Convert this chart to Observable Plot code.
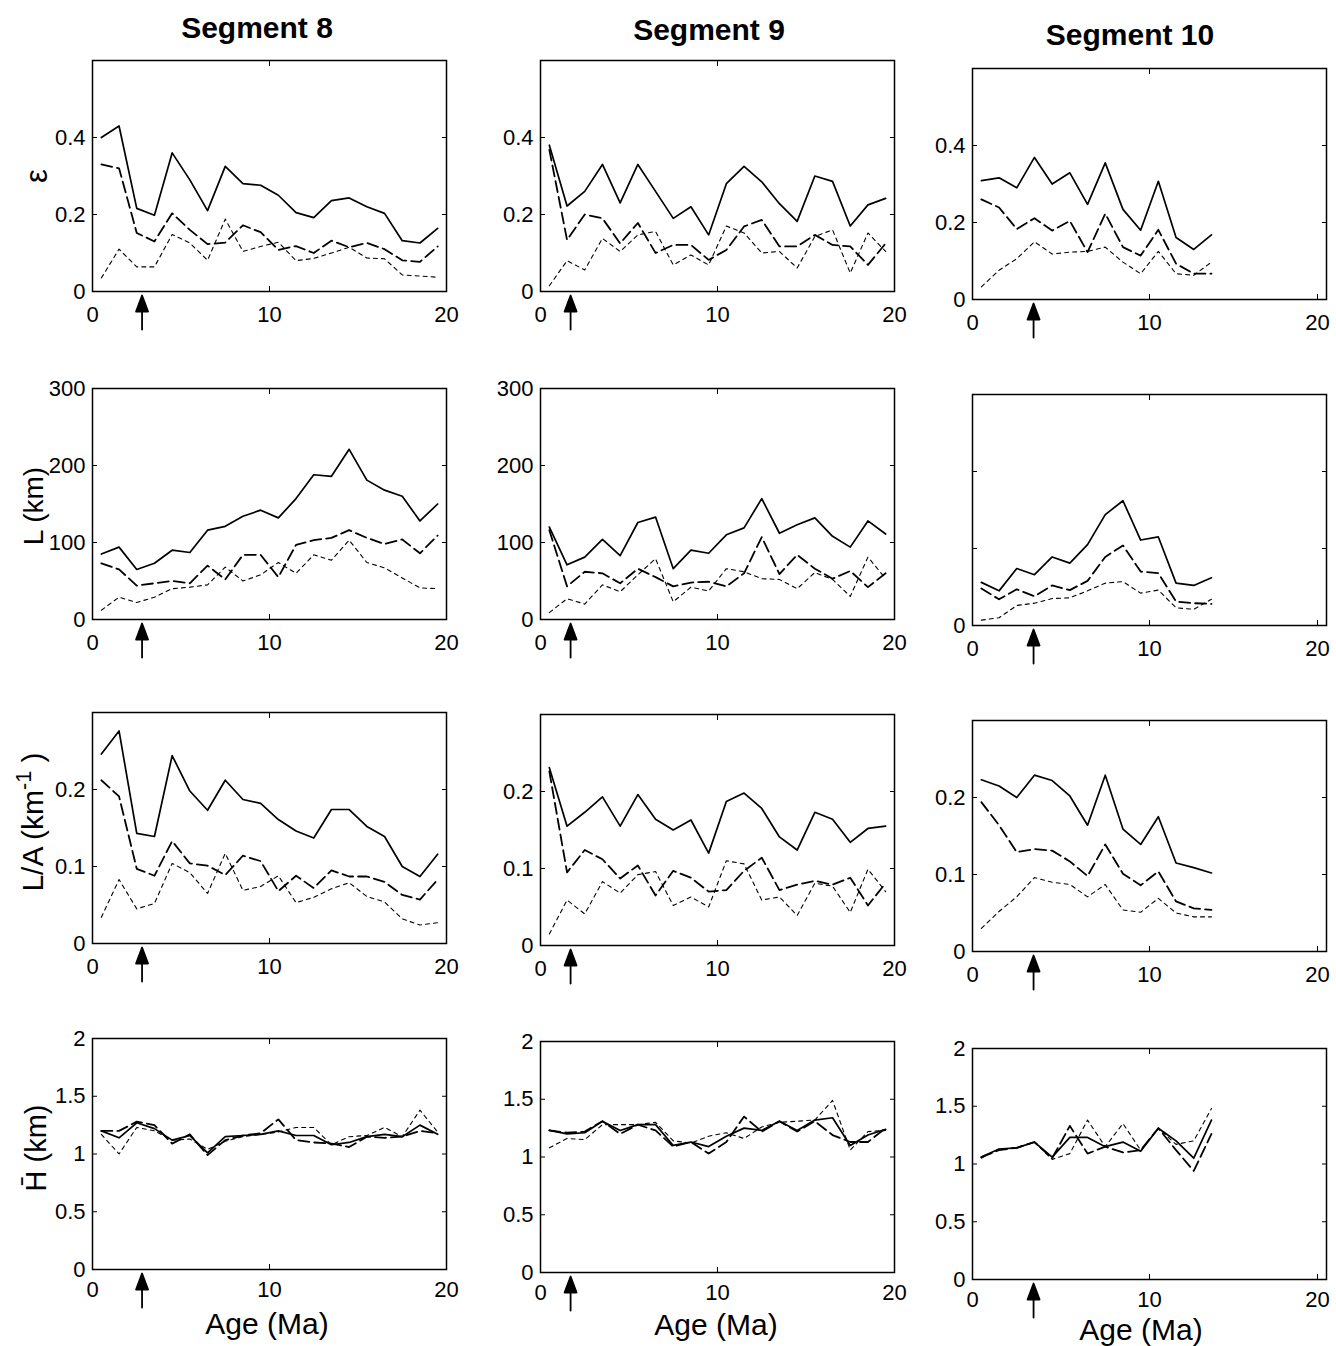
<!DOCTYPE html>
<html><head><meta charset="utf-8">
<script src="https://cdn.jsdelivr.net/npm/d3@7"></script>
<script src="https://cdn.jsdelivr.net/npm/@observablehq/plot@0.6"></script>
<style>
body{margin:0;background:#fff;}
#page{position:relative;width:1336px;height:1346px;background:#fff;font-family:"Liberation Sans",Arial,Helvetica,sans-serif;color:#000;overflow:hidden;}
.title{position:absolute;font-weight:bold;font-size:30px;transform:translate(-50%,-50%);white-space:nowrap;line-height:1;}
.ylab{position:absolute;font-size:28px;transform:translate(-50%,-50%) rotate(-90deg);white-space:nowrap;line-height:1;}
.xlab{position:absolute;font-size:30px;transform:translate(-50%,-50%);white-space:nowrap;line-height:1;}
.panel{position:absolute;}
sup{font-size:0.72em;vertical-align:0.55em;line-height:0;}
</style></head><body><div id="page"></div>
<script>
// ---------- data ----------
const segments = ["Segment 8", "Segment 9", "Segment 10"];
const ageSeg8  = [0.5,1.5,2.5,3.5,4.5,5.5,6.5,7.5,8.5,9.5,10.5,11.5,12.5,13.5,14.5,15.5,16.5,17.5,18.5,19.5];
const ageSeg9  = [0.5,1.5,2.5,3.5,4.5,5.5,6.5,7.5,8.5,9.5,10.5,11.5,12.5,13.5,14.5,15.5,16.5,17.5,18.5,19.5];
const ageSeg10 = [0.5,1.5,2.5,3.5,4.5,5.5,6.5,7.5,8.5,9.5,10.5,11.5,12.5,13.5];
const arrowSeg8 = 2.8, arrowSeg9 = 1.7, arrowSeg10 = 3.45;

// epsilon
const epsSeg8Solid  = [0.40,0.43,0.216,0.198,0.36,0.29,0.21,0.325,0.28,0.276,0.25,0.205,0.192,0.236,0.243,0.22,0.203,0.132,0.126,0.164];
const epsSeg8Long   = [0.33,0.32,0.152,0.13,0.203,0.16,0.123,0.127,0.172,0.154,0.108,0.118,0.1,0.132,0.115,0.126,0.11,0.081,0.077,0.117];
const epsSeg8Short  = [0.035,0.11,0.064,0.064,0.148,0.126,0.081,0.188,0.104,0.117,0.128,0.08,0.086,0.1,0.115,0.087,0.085,0.043,0.04,0.037];
const epsSeg9Solid  = [0.38,0.222,0.26,0.33,0.23,0.33,0.26,0.19,0.22,0.147,0.28,0.325,0.285,0.228,0.182,0.30,0.286,0.17,0.225,0.242];
const epsSeg9Long   = [0.368,0.134,0.2,0.19,0.125,0.178,0.1,0.121,0.121,0.082,0.108,0.169,0.186,0.117,0.117,0.147,0.121,0.117,0.069,0.125];
const epsSeg9Short  = [0.015,0.08,0.056,0.138,0.104,0.147,0.156,0.069,0.095,0.069,0.17,0.152,0.1,0.104,0.061,0.143,0.16,0.048,0.152,0.104];
const epsSeg10Solid = [0.309,0.316,0.29,0.369,0.3,0.329,0.247,0.355,0.234,0.18,0.307,0.161,0.13,0.168];
const epsSeg10Long  = [0.26,0.239,0.183,0.211,0.179,0.204,0.123,0.223,0.136,0.114,0.181,0.093,0.067,0.067];
const epsSeg10Short = [0.033,0.076,0.106,0.15,0.118,0.123,0.125,0.136,0.097,0.067,0.125,0.067,0.063,0.097];

// L (km)
const lenSeg8Solid  = [85,94,65,73,90,87,116,121,134,142,132,157,188,186,221,181,168,160,128,150];
const lenSeg8Long   = [73,65,44,47,50,47,70,52,84,84,55,97,103,106,116,106,98,104,86,109];
const lenSeg8Short  = [12,29,22,29,40,42,45,68,50,58,74,60,84,77,103,74,67,54,41,40];
const lenSeg9Solid  = [120,71,81,104,83,126,133,66,90,86,110,119,157,112,123,132,108,94,128,111];
const lenSeg9Long   = [116,43,62,60,47,66,55,43,48,49,43,60,107,59,84,66,53,63,42,60];
const lenSeg9Short  = [9,27,20,45,36,58,79,23,42,37,66,62,53,52,40,61,52,30,81,53];
const lenSeg10Solid = [56,45,74,66,89,81,105,144,162,111,115,55,52,62];
const lenSeg10Long  = [48,34,47,38,52,46,58,89,104,70,68,31,29,28];
const lenSeg10Short = [7,10,26,29,35,36,45,55,57,42,46,23,21,34];

// L/A (km^-1)
const laSeg8Solid  = [0.246,0.276,0.143,0.139,0.244,0.198,0.173,0.212,0.187,0.182,0.161,0.146,0.137,0.174,0.174,0.152,0.139,0.1,0.087,0.116];
const laSeg8Long   = [0.212,0.191,0.097,0.088,0.133,0.104,0.101,0.089,0.114,0.107,0.068,0.088,0.072,0.095,0.087,0.087,0.08,0.063,0.057,0.083];
const laSeg8Short  = [0.034,0.083,0.045,0.052,0.104,0.092,0.065,0.117,0.069,0.074,0.088,0.053,0.06,0.071,0.079,0.061,0.054,0.032,0.024,0.027];
const laSeg9Solid  = [0.231,0.155,0.173,0.193,0.155,0.196,0.164,0.15,0.163,0.12,0.187,0.198,0.178,0.141,0.124,0.173,0.164,0.134,0.152,0.155];
const laSeg9Long   = [0.226,0.095,0.124,0.112,0.087,0.104,0.065,0.097,0.088,0.07,0.072,0.097,0.114,0.072,0.079,0.084,0.079,0.088,0.052,0.081];
const laSeg9Short  = [0.015,0.059,0.041,0.083,0.068,0.092,0.096,0.052,0.063,0.05,0.11,0.106,0.059,0.063,0.039,0.081,0.077,0.043,0.099,0.07];
const laSeg10Solid = [0.223,0.215,0.2,0.229,0.222,0.202,0.164,0.229,0.159,0.139,0.175,0.115,0.109,0.102];
const laSeg10Long  = [0.194,0.164,0.129,0.133,0.131,0.117,0.098,0.139,0.101,0.086,0.104,0.065,0.056,0.054];
const laSeg10Short = [0.03,0.052,0.071,0.096,0.09,0.087,0.071,0.087,0.054,0.051,0.069,0.05,0.045,0.045];

// H-bar (km)
const hSeg8Solid  = [1.2,1.14,1.27,1.22,1.12,1.16,1.01,1.15,1.16,1.17,1.2,1.16,1.16,1.08,1.1,1.15,1.17,1.15,1.25,1.17];
const hSeg8Long   = [1.2,1.2,1.28,1.25,1.09,1.17,0.99,1.12,1.16,1.18,1.3,1.12,1.1,1.09,1.06,1.15,1.14,1.15,1.2,1.18];
const hSeg8Short  = [1.17,1.0,1.23,1.2,1.12,1.13,1.04,1.11,1.15,1.17,1.19,1.23,1.23,1.08,1.15,1.16,1.23,1.15,1.38,1.19];
const hSeg9Solid  = [1.23,1.2,1.21,1.31,1.23,1.28,1.28,1.1,1.13,1.09,1.18,1.25,1.23,1.31,1.23,1.32,1.34,1.1,1.19,1.24];
const hSeg9Long   = [1.23,1.21,1.22,1.31,1.2,1.28,1.23,1.09,1.13,1.03,1.13,1.35,1.22,1.31,1.22,1.31,1.19,1.13,1.13,1.25];
const hSeg9Short  = [1.08,1.16,1.15,1.28,1.28,1.28,1.3,1.14,1.12,1.18,1.21,1.16,1.26,1.3,1.31,1.32,1.49,1.06,1.22,1.23];
const hSeg10Solid = [1.06,1.13,1.14,1.19,1.06,1.23,1.23,1.15,1.19,1.11,1.31,1.2,1.05,1.38];
const hSeg10Long  = [1.06,1.12,1.14,1.19,1.05,1.33,1.09,1.15,1.1,1.12,1.31,1.12,0.94,1.26];
const hSeg10Short = [1.05,1.13,1.14,1.19,1.04,1.09,1.38,1.15,1.35,1.12,1.31,1.17,1.2,1.48];

// axis ticks
const xTicksInner = [0, 10];
const xTickEnd = [20];
const xTicks = [0, 10, 20];
const epsTicks = [0, 0.2, 0.4], epsDomain = [0, 0.6];
const lenTicks = [0, 100, 200, 300], lenDomain = [0, 300];
const laTicks = [0, 0.1, 0.2], laDomain = [0, 0.3];
const hTicks = [0, 0.5, 1, 1.5, 2], hDomain = [0, 2];

// ---------- layout ----------
const colLeft = [92, 540, 972];
const frameW = 354, frameH = 231;
const rowTop = [[60, 60, 68], [388, 388, 394], [712, 714, 720], [1038, 1041, 1048]];
const rowTickPad = [20, 20, 20, 17];
const endLabelShift = [0, 0, -9];
const mL = 70, mR = 10, mT = 10, mB = 56;
const FONT = '"Liberation Sans", Arial, Helvetica, sans-serif';

const arrowShape = {
  draw(ctx, l) {
    const hw = 6, hl = 16;
    ctx.moveTo(0, -l);
    ctx.lineTo(hw, -l + hl);
    ctx.lineTo(-hw, -l + hl);
    ctx.closePath();
    ctx.moveTo(0, 0);
    ctx.lineTo(0, -l + hl);
  }
};

function rowsOf(ages, vals) { return ages.map((a, i) => ({age: a, v: vals[i]})); }

function panel(cfg, r, c) {
  const {ages, solid, long, short, domain, ticks, fmt, arrow} = cfg;
  const pad = rowTickPad[r];
  const el = Plot.plot({
    width: frameW + mL + mR, height: frameH + mT + mB,
    marginLeft: mL, marginRight: mR, marginTop: mT, marginBottom: mB,
    style: {background: "none", overflow: "visible", maxWidth: "none", fontSize: "22px", fontFamily: FONT, color: "black"},
    x: {domain: [0, 20]},
    y: {domain},
    marks: [
      Plot.line(rowsOf(ages, short), {x: "age", y: "v", stroke: "black", strokeWidth: 1.1, strokeDasharray: "4,4"}),
      Plot.line(rowsOf(ages, long), {x: "age", y: "v", stroke: "black", strokeWidth: 1.8, strokeDasharray: "11,5"}),
      Plot.line(rowsOf(ages, solid), {x: "age", y: "v", stroke: "black", strokeWidth: 1.7}),
      Plot.frame({stroke: "black", strokeWidth: 1.5}),
      Plot.axisX({anchor: "bottom", ticks: xTicksInner, tickSize: -5, tickPadding: pad, tickFormat: d => String(d), label: null}),
      Plot.axisX({anchor: "bottom", ticks: xTickEnd, tickSize: -5, tickPadding: pad, dx: endLabelShift[c], tickFormat: d => String(d), label: null}),
      Plot.axisX({anchor: "top", ticks: xTicks, tickSize: -5, tickFormat: () => "", label: null}),
      Plot.axisY({anchor: "left", ticks, tickSize: -5, tickPadding: 12, tickFormat: fmt, label: null}),
      Plot.axisY({anchor: "right", ticks, tickSize: -5, tickFormat: () => "", label: null}),
      Plot.vector([arrow], {x: d => d, frameAnchor: "bottom", anchor: "start", length: 34, dy: 38,
        shape: arrowShape, fill: "black", stroke: "black", strokeWidth: 1.8})
    ]
  });
  const wrap = document.createElement("div");
  wrap.className = "panel";
  wrap.style.left = (colLeft[c] - mL) + "px";
  wrap.style.top = (rowTop[r][c] - mT) + "px";
  wrap.appendChild(el);
  return wrap;
}

const std = d => String(d);
const zeroOnly = d => d === 0 ? "0" : "";

const grid = [
  [
    {ages: ageSeg8, solid: epsSeg8Solid, long: epsSeg8Long, short: epsSeg8Short, domain: epsDomain, ticks: epsTicks, fmt: std, arrow: arrowSeg8},
    {ages: ageSeg9, solid: epsSeg9Solid, long: epsSeg9Long, short: epsSeg9Short, domain: epsDomain, ticks: epsTicks, fmt: std, arrow: arrowSeg9},
    {ages: ageSeg10, solid: epsSeg10Solid, long: epsSeg10Long, short: epsSeg10Short, domain: epsDomain, ticks: epsTicks, fmt: std, arrow: arrowSeg10}
  ],
  [
    {ages: ageSeg8, solid: lenSeg8Solid, long: lenSeg8Long, short: lenSeg8Short, domain: lenDomain, ticks: lenTicks, fmt: std, arrow: arrowSeg8},
    {ages: ageSeg9, solid: lenSeg9Solid, long: lenSeg9Long, short: lenSeg9Short, domain: lenDomain, ticks: lenTicks, fmt: std, arrow: arrowSeg9},
    {ages: ageSeg10, solid: lenSeg10Solid, long: lenSeg10Long, short: lenSeg10Short, domain: lenDomain, ticks: lenTicks, fmt: zeroOnly, arrow: arrowSeg10}
  ],
  [
    {ages: ageSeg8, solid: laSeg8Solid, long: laSeg8Long, short: laSeg8Short, domain: laDomain, ticks: laTicks, fmt: std, arrow: arrowSeg8},
    {ages: ageSeg9, solid: laSeg9Solid, long: laSeg9Long, short: laSeg9Short, domain: laDomain, ticks: laTicks, fmt: std, arrow: arrowSeg9},
    {ages: ageSeg10, solid: laSeg10Solid, long: laSeg10Long, short: laSeg10Short, domain: laDomain, ticks: laTicks, fmt: std, arrow: arrowSeg10}
  ],
  [
    {ages: ageSeg8, solid: hSeg8Solid, long: hSeg8Long, short: hSeg8Short, domain: hDomain, ticks: hTicks, fmt: std, arrow: arrowSeg8},
    {ages: ageSeg9, solid: hSeg9Solid, long: hSeg9Long, short: hSeg9Short, domain: hDomain, ticks: hTicks, fmt: std, arrow: arrowSeg9},
    {ages: ageSeg10, solid: hSeg10Solid, long: hSeg10Long, short: hSeg10Short, domain: hDomain, ticks: hTicks, fmt: std, arrow: arrowSeg10}
  ]
];

const page = document.getElementById("page");
grid.forEach((row, r) => row.forEach((cfg, c) => page.appendChild(panel(cfg, r, c))));

function addText(cls, html, x, y, size) {
  const d = document.createElement("div");
  d.className = cls; d.innerHTML = html;
  d.style.left = x + "px"; d.style.top = y + "px";
  if (size) d.style.fontSize = size + "px";
  page.appendChild(d);
}
const titlePos = [[257, 28], [709, 30], [1130, 35]];
segments.forEach((s, i) => addText("title", s, titlePos[i][0], titlePos[i][1]));
addText("ylab", "ε", 36, 176, 31);
addText("ylab", "L (km)", 34, 506);
addText("ylab", "L/A (km<sup>-1</sup> )", 33, 822, 30);
addText("ylab", "H&#772; (km)", 36, 1148, 29);
const agePos = [[267, 1324], [716, 1325], [1141, 1330]];
agePos.forEach(p => addText("xlab", "Age (Ma)", p[0], p[1]));
</script></body></html>
